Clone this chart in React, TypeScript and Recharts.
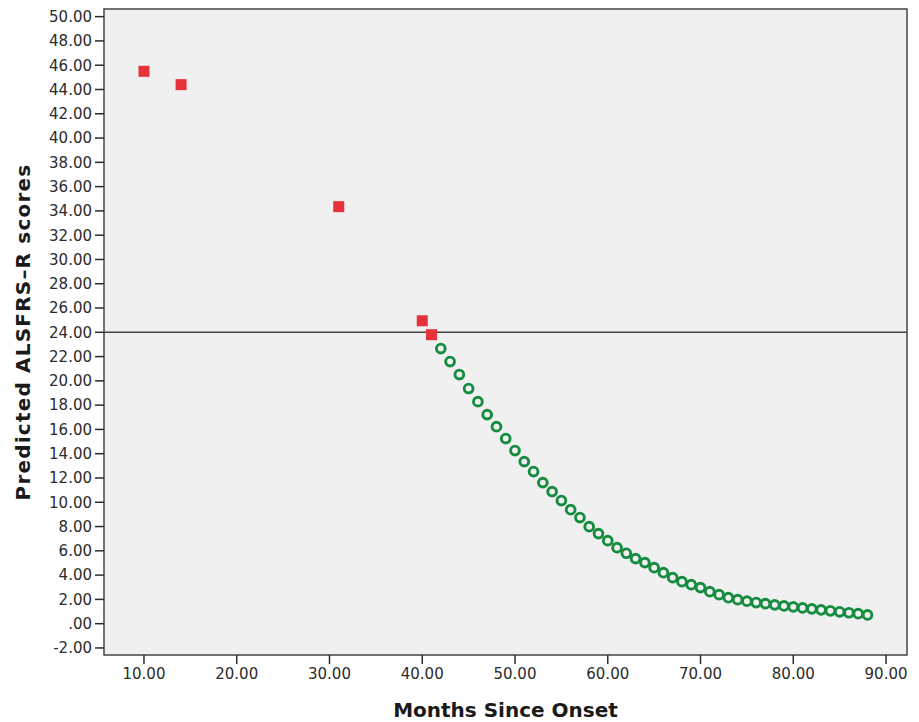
import React from 'react';
import {
  ScatterChart,
  Scatter,
  XAxis,
  YAxis,
  ReferenceArea,
  ReferenceLine,
} from 'recharts';

// observed scores (red squares)
const observedMonths = [10, 14, 31, 40, 41];
const observedScores = [45.5, 44.4, 34.35, 24.95, 23.8];

// predicted scores (green circles)
const predictedMonths = [
  42, 43, 44, 45, 46, 47, 48, 49, 50, 51, 52, 53, 54, 55, 56, 57,
  58, 59, 60, 61, 62, 63, 64, 65, 66, 67, 68, 69, 70, 71, 72, 73,
  74, 75, 76, 77, 78, 79, 80, 81, 82, 83, 84, 85, 86, 87, 88,
];
const predictedScores = [
  22.66, 21.59, 20.52, 19.37, 18.29, 17.22, 16.23, 15.25, 14.26, 13.35, 12.53, 11.62, 10.88, 10.14, 9.39, 8.74,
  7.99, 7.42, 6.84, 6.26, 5.8, 5.36, 5.03, 4.61, 4.2, 3.79, 3.46, 3.21, 2.97, 2.64, 2.39, 2.14,
  1.98, 1.85, 1.74, 1.65, 1.55, 1.46, 1.38, 1.3, 1.22, 1.14, 1.06, 0.98, 0.9, 0.82, 0.72,
];

const xTicks = [10, 20, 30, 40, 50, 60, 70, 80, 90];
const yTicks = [
  -2, 0, 2, 4, 6, 8, 10, 12, 14, 16, 18, 20, 22, 24, 26,
  28, 30, 32, 34, 36, 38, 40, 42, 44, 46, 48, 50,
];
const cutoff = 24;

const X_DOMAIN: [number, number] = [5.69, 92.26];
const Y_DOMAIN: [number, number] = [-2.58, 50.63];

const FONT = '"DejaVu Sans", sans-serif';
const INK = '#2b2b2b';
const RED = '#e8323b';
const GREEN = '#168c40';
const PANEL = '#f0f0f0';

const observed = observedMonths.map((m, i) => ({ x: m, y: observedScores[i] }));
const predicted = predictedMonths.map((m, i) => ({ x: m, y: predictedScores[i] }));

// SPSS style labels: ".00" instead of "0.00"
const fmt = (v: number) => {
  const s = v.toFixed(2);
  return s.startsWith('0.') ? s.slice(1) : s;
};

const Square = (props: any) => {
  const { cx, cy } = props;
  return <rect x={cx - 5.5} y={cy - 5.5} width={11} height={11} fill={RED} />;
};

const Ring = (props: any) => {
  const { cx, cy } = props;
  return <circle cx={cx} cy={cy} r={4.4} fill="none" stroke={GREEN} strokeWidth={2.9} />;
};

export default function App() {
  return (
    <div style={{ position: 'absolute', left: 0, top: 0, width: 919, height: 722, background: '#fff' }}>
      <ScatterChart width={919} height={722} margin={{ top: 9, right: 12, bottom: 0, left: 0 }}>
        <ReferenceArea
          x1={X_DOMAIN[0]}
          x2={X_DOMAIN[1]}
          y1={Y_DOMAIN[0]}
          y2={Y_DOMAIN[1]}
          fill={PANEL}
          fillOpacity={1}
          stroke="#444"
          strokeWidth={1.5}
        />
        <XAxis
          type="number"
          dataKey="x"
          domain={X_DOMAIN}
          ticks={xTicks}
          allowDataOverflow
          height={67}
          tickSize={9}
          tickMargin={4}
          tickFormatter={fmt}
          axisLine={false}
          tickLine={{ stroke: INK, strokeWidth: 1.5 }}
          tick={{ fontSize: 15, fill: INK, fontFamily: FONT }}
          interval={0}
          label={{
            value: 'Months Since Onset',
            position: 'insideBottom',
            offset: 5,
            style: { fontSize: 20, fontWeight: 'bold', fill: '#1a1a1a', fontFamily: FONT },
          }}
        />
        <YAxis
          type="number"
          dataKey="y"
          domain={Y_DOMAIN}
          ticks={yTicks}
          allowDataOverflow
          width={104}
          tickSize={9}
          tickMargin={3}
          tickFormatter={fmt}
          axisLine={false}
          tickLine={{ stroke: INK, strokeWidth: 1.5 }}
          tick={{ fontSize: 15, fill: INK, fontFamily: FONT }}
          interval={0}
          label={{
            value: 'Predicted ALSFRS–R scores',
            angle: -90,
            position: 'insideLeft',
            offset: 23,
            style: {
              textAnchor: 'middle',
              fontSize: 20,
              fontWeight: 'bold',
              letterSpacing: 1.2,
              fill: '#1a1a1a',
              fontFamily: FONT,
            },
          }}
        />
        <ReferenceLine y={cutoff} stroke="#444" strokeWidth={1.5} />
        <Scatter data={observed} shape={Square} isAnimationActive={false} />
        <Scatter data={predicted} shape={Ring} isAnimationActive={false} />
      </ScatterChart>
    </div>
  );
}
